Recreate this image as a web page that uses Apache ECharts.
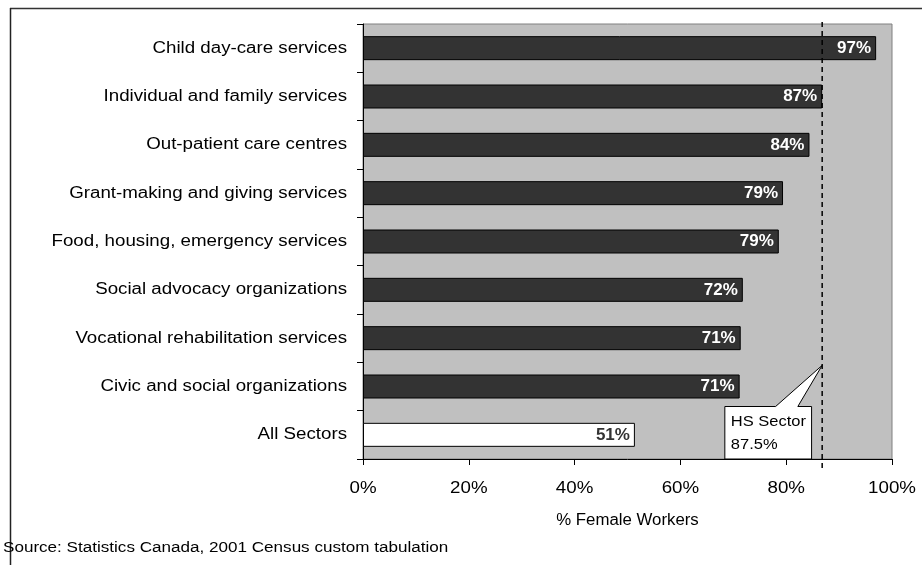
<!DOCTYPE html>
<html><head><meta charset="utf-8">
<script src="https://cdn.jsdelivr.net/npm/echarts@6/dist/echarts.min.js"></script>
<style>html,body{margin:0;padding:0;background:#fff}#c{width:922px;height:565px}</style>
</head><body><div id="c"></div>
<script>
const categories = [
  'Child day-care services',
  'Individual and family services',
  'Out-patient care centres',
  'Grant-making and giving services',
  'Food, housing, emergency services',
  'Social advocacy organizations',
  'Vocational rehabilitation services',
  'Civic and social organizations',
  'All Sectors'
];
const values = [97.0, 86.8, 84.4, 79.4, 78.6, 71.8, 71.4, 71.2, 51.4];
const valueLabels = ['97%', '87%', '84%', '79%', '79%', '72%', '71%', '71%', '51%'];
const highlightCategory = 'All Sectors';
const xTickValues = [0, 20, 40, 60, 80, 100];
const xTickLabels = ['0%', '20%', '40%', '60%', '80%', '100%'];
const hsLineValue = 86.8;
const hsLabelLines = ['HS Sector', '87.5%'];
const xTitle = '% Female Workers';
const sourceText = 'Source: Statistics Canada, 2001 Census custom tabulation';

(function () {
const FONT = 'Arial, "Liberation Sans", sans-serif';
const chart = echarts.init(document.getElementById('c'), null, {renderer: 'canvas'});
const xMin = xTickValues[0], xMax = xTickValues[xTickValues.length - 1];
const xStep = xTickValues[1] - xTickValues[0];

chart.setOption({
  animation: false,
  backgroundColor: '#fff',
  grid: {
    left: 363, top: 24, width: 529, height: 435,
    show: true, backgroundColor: '#C0C0C0', borderColor: '#808080', borderWidth: 1
  },
  xAxis: {
    type: 'value', min: xMin, max: xMax, interval: xStep,
    axisLine: {show: true, lineStyle: {color: '#000', width: 1}},
    axisTick: {show: true, length: 6, lineStyle: {color: '#000'}},
    splitLine: {show: false},
    axisLabel: {show: false}
  },
  yAxis: {
    type: 'category', inverse: true, data: categories,
    axisLine: {show: true, lineStyle: {color: '#000', width: 1}},
    axisTick: {show: true, length: 6, lineStyle: {color: '#000'}},
    splitLine: {show: false},
    axisLabel: {show: false}
  },
  series: [{
    type: 'bar',
    barWidth: 24,
    data: values.map((v, i) => ({
      value: v,
      itemStyle: {
        color: categories[i] === highlightCategory ? '#FFFFFF' : '#333333',
        borderColor: '#000', borderWidth: 1
      },
      label: {color: categories[i] === highlightCategory ? '#333333' : '#FFFFFF'}
    })),
    label: {
      show: true, position: 'insideRight', distance: 5,
      formatter: p => valueLabels[p.dataIndex],
      fontSize: 17, fontWeight: 'bold', fontFamily: FONT
    }
  }]
});

function px(x, cat) { return chart.convertToPixel({gridIndex: 0}, [x, cat]); }
const gridRect = chart.getModel().getComponent('grid', 0).coordinateSystem.getRect();
const gLeft = gridRect.x, gTop = gridRect.y, gBottom = gridRect.y + gridRect.height;
const lineX = px(hsLineValue, categories[0])[0];
const yVoc = px(0, categories[6])[1];
const yCiv = px(0, categories[7])[1];
const tipY = (yVoc + yCiv) / 2 + 3;
const boxTop = yCiv + 20;
const bx1 = px(68.4, categories[0])[0];
const bx2 = px(84.8, categories[0])[0];
const pb1 = px(78.0, categories[0])[0];
const pb2 = px(82.2, categories[0])[0];

const Y_SCALE = 1.17, X_SCALE = 1.17;
const graphics = [
  {type: 'line', shape: {x1: 10, y1: 8.5, x2: 922, y2: 8.5}, style: {stroke: '#333', lineWidth: 1.5}, z: 10},
  {type: 'line', shape: {x1: 10.5, y1: 8, x2: 10.5, y2: 565}, style: {stroke: '#222', lineWidth: 1.5}, z: 10},
  {type: 'line', shape: {x1: lineX, y1: gTop - 2, x2: lineX, y2: gBottom + 10},
   style: {stroke: '#000', lineWidth: 1.5, lineDash: [5, 4]}, z: 20},
  {type: 'polygon', shape: {points: [
    [bx1, gBottom], [bx1, boxTop], [pb1, boxTop], [lineX, tipY], [pb2, boxTop], [bx2, boxTop], [bx2, gBottom]
  ]}, style: {fill: '#fff', stroke: '#000', lineWidth: 1}, z: 30},
  {type: 'text', x: bx1 + 6, y: boxTop + 4, z: 31, scaleX: 1.1,
   style: {text: hsLabelLines.join('\n'), fill: '#000', font: '15px ' + FONT, lineHeight: 23}},
  {type: 'text', x: 3, y: 548, z: 31, scaleX: 1.22,
   style: {text: sourceText, fill: '#000', font: '14px ' + FONT, verticalAlign: 'middle'}},
  {type: 'text', x: (gLeft + gridRect.x + gridRect.width) / 2, y: gBottom + 62, z: 31, scaleX: 1.05,
   style: {text: xTitle, fill: '#000', font: '16px ' + FONT, align: 'center', verticalAlign: 'middle'}}
];
categories.forEach(c => {
  graphics.push({type: 'text', x: gLeft - 16, y: px(0, c)[1], scaleX: Y_SCALE, z: 31,
    style: {text: c, fill: '#000', font: '16px ' + FONT, align: 'right', verticalAlign: 'middle'}});
});
xTickValues.forEach((v, i) => {
  graphics.push({type: 'text', x: px(v, categories[0])[0], y: gBottom + 30, scaleX: X_SCALE, z: 31,
    style: {text: xTickLabels[i], fill: '#000', font: '16px ' + FONT, align: 'center', verticalAlign: 'middle'}});
});
chart.setOption({graphic: graphics});
})();
</script></body></html>
